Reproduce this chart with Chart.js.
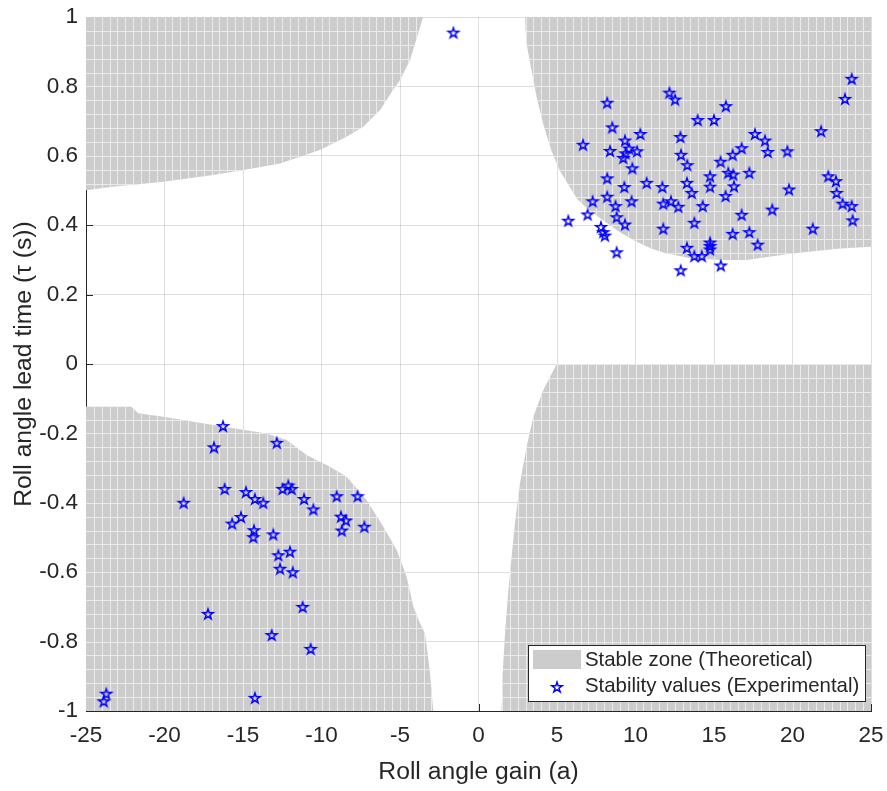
<!DOCTYPE html>
<html lang="en">
<head>
<meta charset="UTF-8">
<title>Roll angle stability map</title>
<style>
  body { margin: 0; background: #ffffff; }
  #wrap { position: relative; width: 887px; height: 791px; }
</style>
</head>
<body>
<div id="wrap"><canvas id="stabChart" width="887" height="791"></canvas></div>
<script src="https://cdn.jsdelivr.net/npm/chart.js"></script>
<script>
// axis ticks
const xTicks = [-25, -20, -15, -10, -5, 0, 5, 10, 15, 20, 25];
const yTicks = [-1, -0.8, -0.6, -0.4, -0.2, 0, 0.2, 0.4, 0.6, 0.8, 1];

// theoretical stable zones, [gain, lead time] outlines
const zoneTopLeft = [[-25, 1], [-3.53, 1], [-3.84, 0.953], [-4.36, 0.876], [-5.0, 0.818], [-5.43, 0.79],
  [-6.27, 0.732], [-7.34, 0.684], [-8.4, 0.655], [-10.1, 0.617], [-12.64, 0.578], [-14.98, 0.559],
  [-16.9, 0.545], [-20.08, 0.525], [-23.3, 0.511], [-25, 0.501]];
const zoneTopRight = [[2.96, 1], [3.0, 0.96], [3.07, 0.921], [3.39, 0.844], [3.71, 0.767], [4.13, 0.69],
  [4.66, 0.613], [5.19, 0.556], [5.72, 0.517], [6.3, 0.475], [6.99, 0.445], [8.06, 0.41], [9.0, 0.38],
  [10.07, 0.352], [11.0, 0.333], [11.88, 0.32], [13.47, 0.305], [15.5, 0.3], [17.08, 0.3],
  [19.84, 0.318], [23.03, 0.333], [25, 0.338], [25, 1]];
const zoneBottomLeft = [[-25, -0.123], [-22.1, -0.123], [-21.67, -0.142], [-20.08, -0.152], [-16.9, -0.176],
  [-13.5, -0.2], [-12.22, -0.219], [-10.95, -0.262], [-9.46, -0.296], [-8.4, -0.325], [-7.13, -0.392],
  [-6.06, -0.469], [-5.21, -0.536], [-4.58, -0.613], [-4.15, -0.699], [-3.73, -0.747], [-3.41, -0.776],
  [-3.25, -0.83], [-3.09, -0.891], [-2.88, -1], [-25, -1]];
const zoneBottomRight = [[4.98, 0], [25, 0], [25, -1], [1.47, -1], [1.54, -0.891], [1.69, -0.776],
  [1.9, -0.651], [2.11, -0.555], [2.32, -0.459], [2.64, -0.344], [3.07, -0.238], [3.49, -0.152], [4.13, -0.075]];

// experimental stability values
const expGain = [
  12.16, 12.52, 8.2, 13.96, 15.0, 8.52, 10.31, 12.86, 6.66, 9.33, 8.38, 9.59, 10.1, 9.22, 9.37, 12.9,
  13.3, 9.8, 8.2, 10.71, 9.29, 11.71, 13.28, 14.75, 14.75, 13.58, 7.27, 8.2, 8.73, 9.75, 11.77, 12.26,
  12.73, 14.28, 6.95, 8.8, 5.72, 9.33, 7.8, 7.95, 8.05, 11.77, 13.75, 8.8, 13.28, 13.75, 14.22, 14.75,
  14.75, 14.75, 12.88,
  23.77, 23.34, 15.76, 21.82, 17.61, 18.25, 18.42, 19.67, 16.76, 16.19, 15.42, 15.91, 16.23, 17.25,
  16.27, 15.74, 19.78, 22.28, 22.77, 22.81, 23.19, 23.77, 23.83, 16.76, 18.71, 21.29, 17.25, 16.19,
  17.78, 15.43,
  -1.6,
  -16.27, -16.85, -16.17, -18.78, -15.69, -17.23, -23.71, -23.87,
  -12.85, -14.81, -14.24, -13.71, -12.48, -12.11, -11.9, -11.11, -10.52, -9.03, -7.7, -8.76, -8.44,
  -8.71, -7.27, -15.13, -14.3, -14.34, -13.07, -12.75, -12.01, -12.64, -11.83, -11.2, -13.17, -10.69, -14.24
];
const expLead = [
  0.782, 0.762, 0.753, 0.703, 0.703, 0.682, 0.663, 0.654, 0.632, 0.644, 0.614, 0.621, 0.613, 0.594, 0.607, 0.603,
  0.573, 0.564, 0.535, 0.522, 0.51, 0.51, 0.522, 0.541, 0.511, 0.493, 0.469, 0.482, 0.455, 0.469, 0.462, 0.469,
  0.453, 0.455, 0.431, 0.423, 0.413, 0.402, 0.395, 0.38, 0.37, 0.39, 0.407, 0.322, 0.335, 0.311, 0.311, 0.35,
  0.34, 0.33, 0.27,
  0.822, 0.764, 0.743, 0.671, 0.663, 0.644, 0.611, 0.613, 0.622, 0.603, 0.583, 0.551, 0.546, 0.551,
  0.512, 0.484, 0.503, 0.541, 0.527, 0.493, 0.462, 0.455, 0.414, 0.43, 0.445, 0.39, 0.38, 0.375,
  0.344, 0.284,
  0.955,
  -0.179, -0.24, -0.36, -0.4, -0.46, -0.72, -0.95, -0.972,
  -0.227, -0.369, -0.389, -0.4, -0.36, -0.35, -0.36, -0.389, -0.419, -0.381, -0.381, -0.44, -0.451,
  -0.48, -0.469, -0.441, -0.479, -0.499, -0.491, -0.551, -0.541, -0.59, -0.6, -0.7, -0.781, -0.821, -0.962
];

const FONT = "'Liberation Sans', Arial, Helvetica, sans-serif";
const TXT = '#262626';
const ZONE_FILL = '#cccccc';
const MESH = '#ebebeb';
const MESH_GAIN = 0.5;   // surface mesh spacing along gain
const MESH_LEAD = 0.04;  // and along lead time
const STAR_BLUE = '#0000ff';

function starMarker(r, lw) {
  const size = Math.ceil(2 * r + 2 * lw + 2);
  const c = document.createElement('canvas');
  c.width = c.height = size;
  const g = c.getContext('2d');
  const cx = size / 2, cy = size / 2 + r * 0.1;
  g.beginPath();
  for (let k = 0; k < 10; k++) {
    const rad = k % 2 ? r * 0.382 : r;
    const ang = -Math.PI / 2 + k * Math.PI / 5;
    const px = cx + rad * Math.cos(ang), py = cy + rad * Math.sin(ang);
    if (k === 0) g.moveTo(px, py); else g.lineTo(px, py);
  }
  g.closePath();
  g.strokeStyle = STAR_BLUE;
  g.lineWidth = lw;
  g.stroke();
  return c;
}
const starImg = starMarker(5.4, 1.5);

const toPts = arr => arr.map(p => ({ x: p[0], y: p[1] }));
const zoneDataset = (pts) => ({
  label: 'Stable zone (Theoretical)',
  data: toPts(pts),
  isZone: true,
  showLine: true,
  fill: 'shape',
  backgroundColor: ZONE_FILL,
  borderColor: ZONE_FILL,
  borderWidth: 0,
  pointRadius: 0,
  tension: 0,
  order: 2
});

// light mesh lines over each stable zone (like the surface edges in the figure)
const meshPlugin = {
  id: 'mesh',
  afterDatasetDraw(chart, args) {
    const ds = chart.data.datasets[args.index];
    if (!ds.isZone) return;
    const pts = args.meta.data;
    const { ctx, chartArea: area, scales: { x, y } } = chart;
    ctx.save();
    ctx.beginPath();
    ctx.rect(area.left, area.top, area.right - area.left, area.bottom - area.top);
    ctx.clip();
    ctx.beginPath();
    pts.forEach((p, i) => i ? ctx.lineTo(p.x, p.y) : ctx.moveTo(p.x, p.y));
    ctx.closePath();
    ctx.clip();
    ctx.strokeStyle = MESH;
    ctx.lineWidth = 1;
    ctx.beginPath();
    const nx = Math.round((x.max - x.min) / MESH_GAIN);
    for (let i = 1; i < nx; i++) {
      const px = Math.round(x.getPixelForValue(x.min + i * MESH_GAIN)) + 0.5;
      ctx.moveTo(px, area.top); ctx.lineTo(px, area.bottom);
    }
    const ny = Math.round((y.max - y.min) / MESH_LEAD);
    for (let j = 1; j < ny; j++) {
      const py = Math.round(y.getPixelForValue(y.min + j * MESH_LEAD)) + 0.5;
      ctx.moveTo(area.left, py); ctx.lineTo(area.right, py);
    }
    ctx.stroke();
    ctx.restore();
  }
};

// MATLAB-style inward ticks on the left and bottom axes
const inTicks = {
  id: 'inTicks',
  beforeDatasetsDraw(chart) {
    const { ctx, chartArea: area, scales: { x, y } } = chart;
    ctx.save();
    ctx.strokeStyle = TXT;
    ctx.lineWidth = 1;
    ctx.beginPath();
    xTicks.forEach(v => {
      const px = Math.round(x.getPixelForValue(v)) + 0.5;
      ctx.moveTo(px, area.bottom); ctx.lineTo(px, area.bottom - 7);
    });
    yTicks.forEach(v => {
      const py = Math.round(y.getPixelForValue(v)) + 0.5;
      ctx.moveTo(area.left, py); ctx.lineTo(area.left + 7, py);
    });
    ctx.stroke();
    ctx.restore();
  }
};

// boxed legend in the lower right corner of the axes
const boxLegend = {
  id: 'boxLegend',
  afterDraw(chart) {
    const { ctx, chartArea: area } = chart;
    const zoneLabel = chart.data.datasets[1].label;
    const starLabel = chart.data.datasets[0].label;
    const w = 337, h = 56;
    const left = area.right - 6 - w, top = area.bottom - 10 - h;
    ctx.save();
    ctx.fillStyle = '#ffffff';
    ctx.fillRect(left, top, w, h);
    ctx.strokeStyle = TXT;
    ctx.lineWidth = 1;
    ctx.strokeRect(Math.round(left) + 0.5, Math.round(top) + 0.5, w, h);
    ctx.fillStyle = ZONE_FILL;
    ctx.fillRect(left + 5, top + 5, 48, 19);
    ctx.drawImage(starImg, left + 29 - starImg.width / 2, top + 42 - starImg.height / 2);
    ctx.fillStyle = TXT;
    ctx.font = '20.4px ' + FONT;
    ctx.textBaseline = 'middle';
    ctx.textAlign = 'left';
    ctx.fillText(zoneLabel, left + 57, top + 15);
    ctx.fillText(starLabel, left + 57, top + 41);
    ctx.restore();
  }
};

const stars = expGain.map((g, i) => ({ x: g, y: expLead[i] }));

new Chart(document.getElementById('stabChart'), {
  type: 'scatter',
  data: {
    datasets: [
      {
        label: 'Stability values (Experimental)',
        data: stars,
        pointStyle: starImg,
        pointRadius: 6,
        showLine: false,
        order: 0
      },
      zoneDataset(zoneTopLeft),
      zoneDataset(zoneTopRight),
      zoneDataset(zoneBottomLeft),
      zoneDataset(zoneBottomRight)
    ]
  },
  options: {
    responsive: false,
    animation: false,
    events: [],
    layout: { padding: { top: 17, right: 16, left: 0, bottom: 0 } },
    plugins: {
      legend: { display: false },
      tooltip: { enabled: false }
    },
    scales: {
      x: {
        type: 'linear',
        min: -25,
        max: 25,
        afterBuildTicks: s => { s.ticks = xTicks.map(v => ({ value: v })); },
        afterFit: s => { s.height = 80; s.paddingLeft = 0; s.paddingRight = 0; },
        grid: { color: 'rgba(38,38,38,0.15)', drawTicks: false },
        border: { color: TXT, width: 1 },
        ticks: {
          color: TXT,
          font: { family: FONT, size: 22.5 },
          padding: 11,
          maxRotation: 0,
          autoSkip: false,
          callback: v => String(v)
        },
        title: {
          display: true,
          text: 'Roll angle gain (a)',
          color: TXT,
          font: { family: FONT, size: 24.7 },
          padding: { top: 0, bottom: 4 }
        }
      },
      y: {
        type: 'linear',
        min: -1,
        max: 1,
        afterBuildTicks: s => { s.ticks = yTicks.map(v => ({ value: v })); },
        afterFit: s => { s.width = 86; s.paddingTop = 0; s.paddingBottom = 0; },
        grid: { color: 'rgba(38,38,38,0.15)', drawTicks: false },
        border: { color: TXT, width: 1 },
        ticks: {
          color: TXT,
          font: { family: FONT, size: 22.5 },
          padding: 8,
          autoSkip: false,
          callback: v => String(v)
        },
        title: {
          display: true,
          text: 'Roll angle lead time (τ (s))',
          color: TXT,
          font: { family: FONT, size: 24.7 },
          padding: { top: 9, bottom: 0 }
        }
      }
    }
  },
  plugins: [inTicks, meshPlugin, boxLegend]
});
</script>
</body>
</html>
